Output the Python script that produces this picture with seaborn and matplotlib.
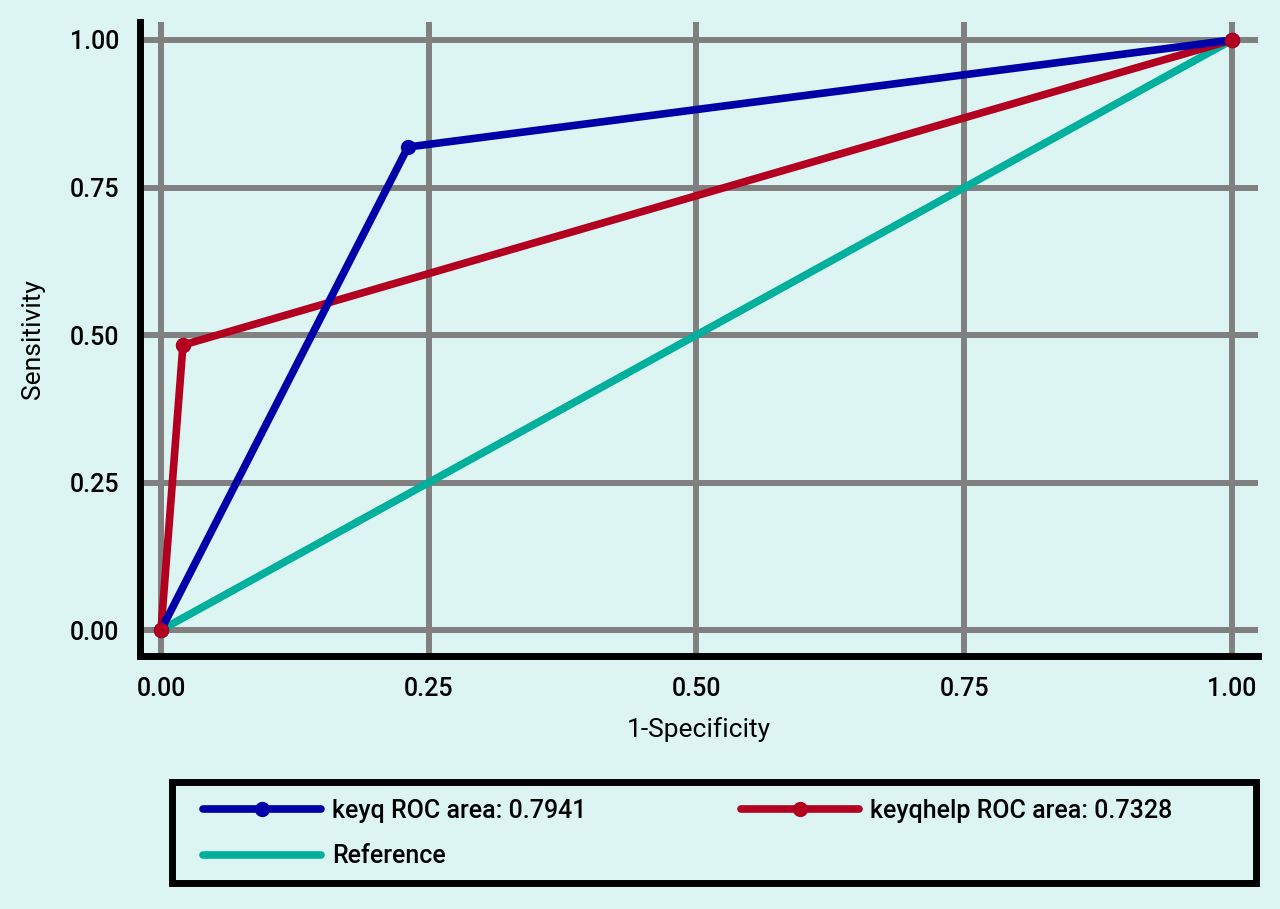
import pandas as pd
import matplotlib.pyplot as plt
import matplotlib.patches as mpatches
import seaborn as sns

# =========================
# Data
# =========================
keyq_fpr = [0.0, 0.2306, 1.0]
keyq_tpr = [0.0, 0.8186, 1.0]
keyqhelp_fpr = [0.0, 0.0205, 1.0]
keyqhelp_tpr = [0.0, 0.483, 1.0]
ref_fpr = [0.0, 1.0]
ref_tpr = [0.0, 1.0]

labels = ["keyq ROC area: 0.7941", "keyqhelp ROC area: 0.7328", "Reference"]
ticks = [0.0, 0.25, 0.5, 0.75, 1.0]
tick_labels = ["0.00", "0.25", "0.50", "0.75", "1.00"]

bg = "#dcf5f2"
c_blue = "#0000a8"
c_red = "#b40020"
c_teal = "#00b09c"
c_grid = "#808080"

sns.set_theme(style="white")
plt.rcParams.update({
    "font.family": ["Roboto", "DejaVu Sans"],
    "font.weight": "medium",
    "font.size": 18,
    "text.color": "black",
    "figure.facecolor": bg,
    "axes.facecolor": bg,
})

df_keyq = pd.DataFrame({"x": keyq_fpr, "y": keyq_tpr})
df_help = pd.DataFrame({"x": keyqhelp_fpr, "y": keyqhelp_tpr})
df_ref = pd.DataFrame({"x": ref_fpr, "y": ref_tpr})

fig = plt.figure(figsize=(12.8, 9.09), dpi=100)
ax = fig.add_axes([140 / 1280, 1 - 656 / 909, 1118 / 1280, 634 / 909])

sns.lineplot(data=df_keyq, x="x", y="y", ax=ax, color=c_blue, linewidth=5.5,
             marker="o", markersize=11, markeredgewidth=0, label=labels[0],
             zorder=4, sort=False)
sns.lineplot(data=df_help, x="x", y="y", ax=ax, color=c_red, linewidth=5.5,
             marker="o", markersize=11, markeredgewidth=0, label=labels[1],
             zorder=3, sort=False)
sns.lineplot(data=df_ref, x="x", y="y", ax=ax, color=c_teal, linewidth=5.5,
             label=labels[2], zorder=2, sort=False)
# red markers sit on top of the blue line
ax.plot(df_help["x"], df_help["y"], ls="none", marker="o", ms=11,
        mew=0, color=c_red, zorder=5)

ax.set_xlim(-0.0196, 1.0243)
ax.set_ylim(-0.044, 1.0305)
ax.set_xticks(ticks)
ax.set_xticklabels(tick_labels)
ax.set_yticks(ticks)
ax.set_yticklabels(tick_labels)
ax.grid(True, color=c_grid, lw=4.3, zorder=1)
ax.set_axisbelow(True)

for side in ["top", "right"]:
    ax.spines[side].set_visible(False)
for side in ["left", "bottom"]:
    ax.spines[side].set_color("black")
    ax.spines[side].set_linewidth(5)
ax.tick_params(axis="both", length=9, width=5, color="black",
               labelsize=18, pad=6, labelcolor="black")

ax.set_xlabel("1-Specificity", fontsize=19, labelpad=12, color="black")
ax.set_ylabel("Sensitivity", fontsize=19, labelpad=18, color="black")

handles, leg_labels = ax.get_legend_handles_labels()
ax.get_legend().remove()

# boxed legend below the plot, filled row by row
box = mpatches.Rectangle((172 / 1280, 26 / 909), 1084 / 1280, 101 / 909,
                         transform=fig.transFigure, facecolor=bg,
                         edgecolor="black", linewidth=5, zorder=0)
fig.patches.append(box)
order = [0, 2, 1]
leg = fig.legend(
    [handles[i] for i in order], [leg_labels[i] for i in order],
    loc="upper left",
    bbox_to_anchor=(203 / 1280, (909 - 799) / 909),
    ncol=2,
    frameon=False,
    fontsize=18,
    labelcolor="black",
    handlelength=4.7,
    handletextpad=0.45,
    columnspacing=6.2,
    labelspacing=0.85,
    borderpad=0,
    borderaxespad=0,
)

fig.savefig("out.png", dpi=100, facecolor=bg)
